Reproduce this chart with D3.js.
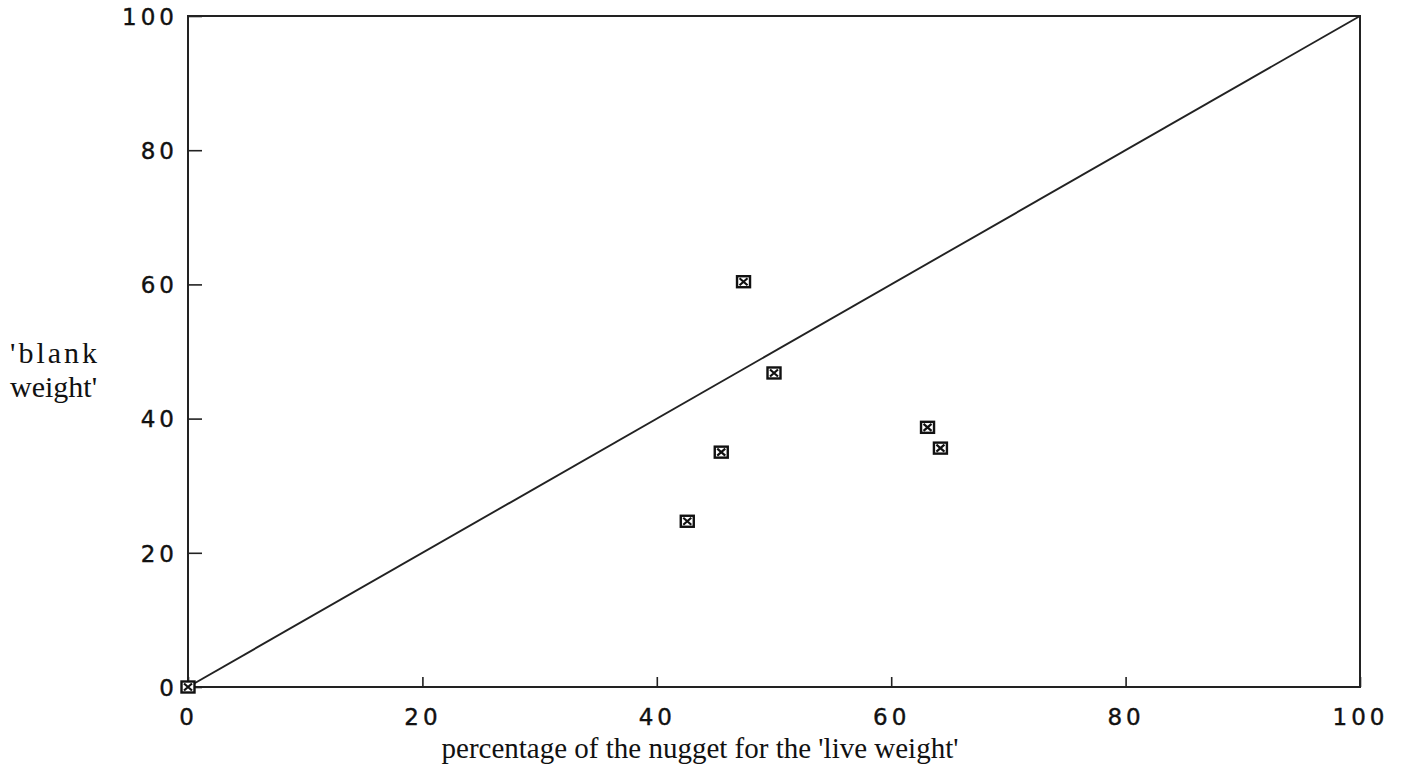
<!DOCTYPE html>
<html>
<head>
<meta charset="utf-8">
<script src="https://cdn.jsdelivr.net/npm/d3@7"></script>
<style>
  body { margin: 0; background: #fff; }
  .tick text { font-family: "DejaVu Sans", sans-serif; font-size: 23px; letter-spacing: 4px; fill: #111; stroke: #111; stroke-width: 0.4px; }
</style>
</head>
<body>
<div id="chart-area"></div>
<script>
// live weight (x) vs blank weight (y), percent of the nugget
var liveWeight = [0, 47.4, 50.0, 45.5, 42.6, 63.1, 64.2];
var blankWeight = [0, 60.4, 46.8, 35.0, 24.7, 38.7, 35.6];
var tickValues = [0, 20, 40, 60, 80, 100];

var width = 1408, height = 768;
var margin = {top: 16, right: 48, bottom: 81, left: 188};

var svg = d3.select("#chart-area").append("svg")
    .attr("width", width)
    .attr("height", height);

var x = d3.scaleLinear().domain([0, 100]).range([margin.left, width - margin.right]);
var y = d3.scaleLinear().domain([0, 100]).range([height - margin.bottom, margin.top]);

// frame
svg.append("rect")
    .attr("x", x(0)).attr("y", y(100))
    .attr("width", x(100) - x(0)).attr("height", y(0) - y(100))
    .attr("fill", "none").attr("stroke", "#222").attr("stroke-width", 2);

// bottom axis, ticks pointing inward
var xAxis = svg.append("g")
    .attr("transform", "translate(0," + y(0) + ")")
    .call(d3.axisBottom(x).tickValues(tickValues).tickSizeInner(-10).tickSizeOuter(0).tickPadding(22));
xAxis.select(".domain").remove();
xAxis.selectAll("line").attr("stroke", "#222").attr("stroke-width", 1.6);

// left axis, ticks pointing inward
var yAxis = svg.append("g")
    .attr("transform", "translate(" + x(0) + ",0)")
    .call(d3.axisLeft(y).tickValues(tickValues).tickSizeInner(-14).tickSizeOuter(0).tickPadding(10));
yAxis.select(".domain").remove();
yAxis.selectAll("line").attr("stroke", "#222").attr("stroke-width", 1.6);
yAxis.selectAll("text").attr("dy", "0.36em");

// 1:1 line
svg.append("line")
    .attr("x1", x(0)).attr("y1", y(0))
    .attr("x2", x(100)).attr("y2", y(100))
    .attr("stroke", "#222").attr("stroke-width", 1.9);

// boxed-cross markers
var pts = liveWeight.map(function(d, i){ return [d, blankWeight[i]]; });
var mk = svg.selectAll("g.mark").data(pts).enter()
    .append("g")
    .attr("class", "mark")
    .attr("transform", function(d){ return "translate(" + x(d[0]) + "," + y(d[1]) + ")"; });
mk.append("rect")
    .attr("x", -6.5).attr("y", -5.5).attr("width", 13).attr("height", 11)
    .attr("fill", "#fff").attr("stroke", "#111").attr("stroke-width", 2.4);
mk.append("path")
    .attr("d", "M-4,-3.5L4,3.5M-4,3.5L4,-3.5")
    .attr("stroke", "#111").attr("stroke-width", 2.2);

// axis titles
svg.append("text")
    .attr("x", 700).attr("y", 758)
    .attr("text-anchor", "middle")
    .attr("font-family", "Liberation Serif, serif")
    .attr("font-size", 29)
    .attr("fill", "#111")
    .text("percentage of the nugget for the 'live weight'");

svg.append("text")
    .attr("x", 10).attr("y", 363)
    .attr("font-family", "Liberation Serif, serif")
    .attr("font-size", 30)
    .attr("letter-spacing", 3)
    .attr("fill", "#111")
    .text("'blank");
svg.append("text")
    .attr("x", 10).attr("y", 397)
    .attr("font-family", "Liberation Serif, serif")
    .attr("font-size", 30)
    .attr("fill", "#111")
    .text("weight'");
</script>
</body>
</html>
